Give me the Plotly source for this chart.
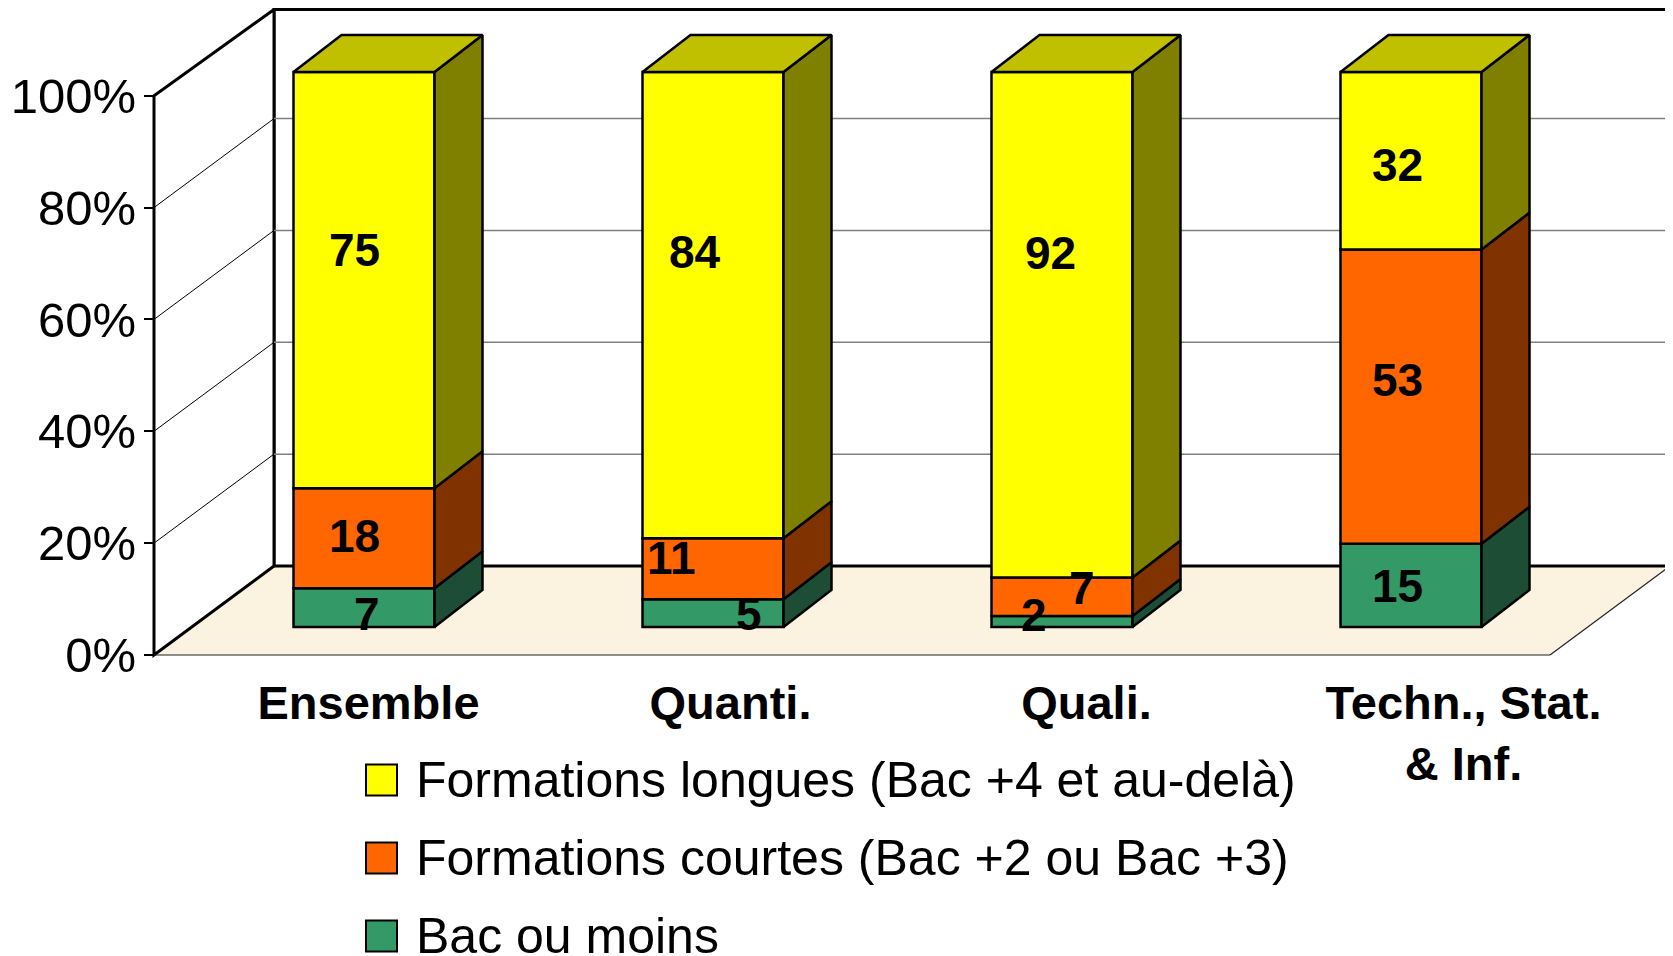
import plotly.graph_objects as go

# ---------------- data ----------------
categories = ["Ensemble", "Quanti.", "Quali.", "Techn., Stat.<br>& Inf."]
series_names = [
    "Bac ou moins",
    "Formations courtes (Bac +2 ou Bac +3)",
    "Formations longues (Bac +4 et au-delà)",
]
bac_ou_moins = [7, 5, 2, 15]
formations_courtes = [18, 11, 7, 53]
formations_longues = [75, 84, 92, 32]
y_tick_values = [0, 20, 40, 60, 80, 100]
y_tick_labels = ["0%", "20%", "40%", "60%", "80%", "100%"]

series_values = [bac_ou_moins, formations_courtes, formations_longues]

# ---------------- style ----------------
FONT = "Liberation Sans, Arial, sans-serif"
FRONT = ["#339966", "#FF6600", "#FFFF00"]
SIDE = ["#1D4D35", "#803300", "#808000"]
TOP = "#C0C000"
FLOOR = "#FCF2E0"
W, H = 1673, 956
PAGE_OFFSET = 8  # default page margin of the html body
X0_PX, PX_PER_CAT = 328.5 - PAGE_OFFSET, 349.0
# front plane (walls, axis ticks)
Y0_PX, PX_PER_PCT = 655.0 - PAGE_OFFSET, 5.593
# bar plane (slightly deeper in the 3D projection)
BAR_Y0_PX, BAR_PX_PER_PCT = 627.0 - PAGE_OFFSET, 5.55
x_range = [-X0_PX / PX_PER_CAT, (W - X0_PX) / PX_PER_CAT]
y_range = [-(H - Y0_PX) / PX_PER_PCT, Y0_PX / PX_PER_PCT]
y2_range = [-(H - BAR_Y0_PX) / BAR_PX_PER_PCT, BAR_Y0_PX / BAR_PX_PER_PCT]
WALL_DX, WALL_DY = 120 / PX_PER_CAT, 89 / PX_PER_PCT
BAR_DX = 35.5 / PX_PER_CAT
DEPTH_DX, DEPTH_DY = 48 / PX_PER_CAT, 37 / BAR_PX_PER_PCT
BAR_W = 141 / PX_PER_CAT
EDGE = 2.5
# label pixel shifts (xshift, yshift) per series / category
LABEL_SHIFTS = [
    [(3, -6), (36, -1), (-28, 7), (-14, -1)],
    [(-10, 2), (-42, 11), (20, 9), (-14, 17)],
    [(-10, 30), (-18, 53), (-12, 72), (-14, -4)],
]
CAT_LABEL_SHIFT_PX = [40, 53, 60, 88]

n = len(categories)
totals = [sum(s[i] for s in series_values) for i in range(n)]
shares = [[s[i] / totals[i] * 100 for i in range(n)] for s in series_values]
bases = []
acc = [0.0] * n
for sh in shares:
    bases.append(acc[:])
    acc = [acc[i] + sh[i] for i in range(n)]

fig = go.Figure()

# ---------------- walls & floor (shapes, below traces) ----------------
x_left, x_right = -0.5, n - 0.5
wall_top = min(100 + WALL_DY, y_range[1] - 1.5 / PX_PER_PCT)
shapes = []


def path(pts):
    return "M " + " L ".join(f"{x},{y}" for x, y in pts) + " Z"


# floor
shapes.append(dict(type="path", layer="below", xref="x", yref="y",
                   path=path([(x_left, 0), (x_right, 0), (x_right + WALL_DX, WALL_DY), (x_left + WALL_DX, WALL_DY)]),
                   fillcolor=FLOOR, line=dict(width=0)))
# back wall
shapes.append(dict(type="rect", layer="below", xref="x", yref="y",
                   x0=x_left + WALL_DX, x1=x_right + WALL_DX, y0=WALL_DY, y1=wall_top,
                   fillcolor="white", line=dict(color="black", width=3)))
# left wall
shapes.append(dict(type="path", layer="below", xref="x", yref="y",
                   path=path([(x_left, 0), (x_left, 100), (x_left + WALL_DX, wall_top), (x_left + WALL_DX, WALL_DY)]),
                   fillcolor="white", line=dict(color="black", width=3)))
# gridlines
for v in y_tick_values[1:-1]:
    shapes.append(dict(type="line", layer="below", xref="x", yref="y",
                       x0=x_left + WALL_DX, x1=x_right + WALL_DX, y0=v + WALL_DY, y1=v + WALL_DY,
                       line=dict(color="#808080", width=1.5)))
    shapes.append(dict(type="line", layer="below", xref="x", yref="y",
                       x0=x_left, x1=x_left + WALL_DX, y0=v, y1=v + WALL_DY,
                       line=dict(color="black", width=1)))
# floor front & right edges
shapes.append(dict(type="line", layer="below", xref="x", yref="y",
                   x0=x_left, x1=x_right, y0=0, y1=0, line=dict(color="#222222", width=1.2)))
shapes.append(dict(type="line", layer="below", xref="x", yref="y",
                   x0=x_right, x1=x_right + WALL_DX, y0=0, y1=WALL_DY, line=dict(color="#222222", width=1.2)))

# ---------------- bars: front faces ----------------
xs = [i + BAR_DX for i in range(n)]
for s in range(len(series_values)):
    fig.add_trace(go.Bar(
        x=xs, y=shares[s], base=bases[s], width=BAR_W, yaxis="y2",
        marker=dict(color=FRONT[s], line=dict(color="black", width=EDGE)),
        name=series_names[s], showlegend=False, hoverinfo="skip",
    ))

# ---------------- bars: side and top faces ----------------
for s in range(len(series_values)):
    for i in range(n):
        xr = xs[i] + BAR_W / 2
        b = bases[s][i]
        t = b + shares[s][i]
        fig.add_trace(go.Scatter(
            x=[xr, xr + DEPTH_DX, xr + DEPTH_DX, xr, xr],
            y=[b, b + DEPTH_DY, t + DEPTH_DY, t, b], yaxis="y2",
            mode="lines", fill="toself", fillcolor=SIDE[s],
            line=dict(color="black", width=EDGE), showlegend=False, hoverinfo="skip"))
for i in range(n):
    xl = xs[i] - BAR_W / 2
    xr = xs[i] + BAR_W / 2
    t = acc[i]
    fig.add_trace(go.Scatter(
        x=[xl, xl + DEPTH_DX, xr + DEPTH_DX, xr, xl],
        y=[t, t + DEPTH_DY, t + DEPTH_DY, t, t], yaxis="y2",
        mode="lines", fill="toself", fillcolor=TOP,
        line=dict(color="black", width=EDGE), showlegend=False, hoverinfo="skip"))

# ---------------- value labels ----------------
annotations = []
for s in range(len(series_values)):
    for i in range(n):
        dx, dy = LABEL_SHIFTS[s][i]
        annotations.append(dict(
            x=xs[i], y=bases[s][i] + shares[s][i] / 2, xref="x", yref="y2",
            text=str(series_values[s][i]), showarrow=False, xshift=dx, yshift=dy,
            font=dict(family=FONT, size=46, color="black", weight="bold")))

# ---------------- custom legend ----------------
LEG_X0, LEG_SQ, LEG_Y0, LEG_STEP, LEG_TX = 366 - PAGE_OFFSET, 31, 780 - PAGE_OFFSET, 78, 414 - PAGE_OFFSET
for k, s in enumerate(reversed(range(len(series_values)))):
    cy = LEG_Y0 + k * LEG_STEP
    shapes.append(dict(type="rect", xref="paper", yref="paper",
                       x0=LEG_X0 / W, x1=(LEG_X0 + LEG_SQ) / W,
                       y0=1 - (cy + LEG_SQ / 2) / H, y1=1 - (cy - LEG_SQ / 2) / H,
                       fillcolor=FRONT[s], line=dict(color="black", width=2)))
    annotations.append(dict(x=LEG_TX / W, y=1 - cy / H, xref="paper", yref="paper",
                            xanchor="left", yanchor="middle", showarrow=False,
                            text=series_names[s], font=dict(family=FONT, size=50, color="black")))

fig.update_layout(
    width=W, height=H, margin=dict(l=0, r=0, t=0, b=0),
    paper_bgcolor="white", plot_bgcolor="white",
    barmode="overlay", showlegend=False,
    shapes=shapes, annotations=annotations,
    xaxis=dict(range=x_range, anchor="free", position=(H - Y0_PX) / H,
               tickvals=[i + CAT_LABEL_SHIFT_PX[i] / PX_PER_CAT for i in range(n)],
               ticktext=categories, ticks="", showgrid=False, zeroline=False, showline=False,
               tickfont=dict(family=FONT, size=47, color="black", weight="bold"),
               ticklabelstandoff=16),
    yaxis=dict(range=y_range, anchor="free", position=(X0_PX - 0.5 * PX_PER_CAT) / W,
               tickvals=y_tick_values, ticktext=y_tick_labels,
               ticks="outside", ticklen=10, tickwidth=2, tickcolor="black",
               showgrid=False, zeroline=False, showline=False,
               tickfont=dict(family=FONT, size=49, color="black"), ticklabelstandoff=-2),
    yaxis2=dict(range=y2_range, overlaying="y", visible=False, anchor="x"),
)

fig.write_html("out.html")
